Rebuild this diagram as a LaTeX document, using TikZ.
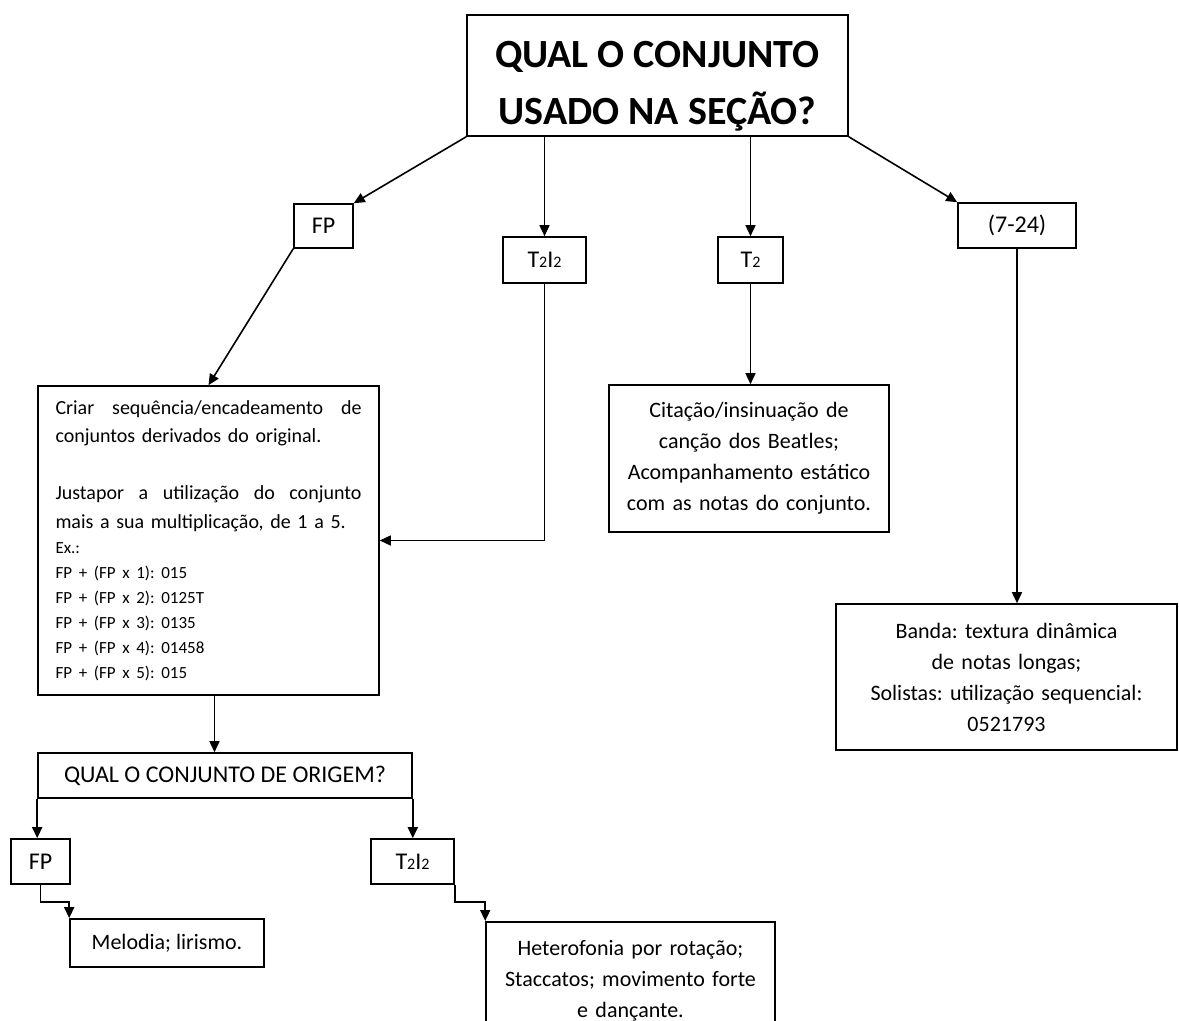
\documentclass[tikz,border=0pt]{standalone}
\usepackage{fontspec}
\setmainfont{Carlito}
\usetikzlibrary{positioning}
\usetikzlibrary{calc,arrows.meta}
\newcommand\sdig[1]{{\fontsize{8}{8}\selectfont #1}}

\begin{document}
\frenchspacing
\begin{tikzpicture}[x=0.5pt,y=-0.5pt,line width=0.8pt,
	box/.style={draw, align=center, inner sep=0pt},
	tag/.style={box, font=\fontsize{12}{14}\selectfont},
	note/.style={box, font=\fontsize{11}{15.5}\selectfont},
	link/.style={-{Triangle[length=5.5pt,width=5pt]}}]
		\useasboundingbox (0,0) rectangle (1179,1021);
		\clip (0,0) rectangle (1179,1021);
		% top level
		\node[box, minimum width=190.5pt, minimum height=60.5pt, font=\fontsize{20}{28.5}\selectfont\bfseries] (titulo) at (657.5,75.5) {\rule{0pt}{24pt}QUAL O CONJUNTO\\USADO NA SEÇÃO?};
		\node[tag, minimum width=29.5pt, minimum height=22pt] (fp) at (323.5,226) {FP};
		\node[tag, minimum width=41.5pt, minimum height=23pt] (tti) at (544.5,260) {T\sdig{2}I\sdig{2}};
		\node[tag, minimum width=32.5pt, minimum height=23pt] (tt) at (750.5,260) {T\sdig{2}};
		\node[tag, minimum width=59pt, minimum height=22.5pt] (sete) at (1017,225.5) {(7-24)};
		% descriptions
		\node[box, align=left, text width=153pt, inner xsep=8.75pt, minimum height=154.5pt, font=\fontsize{10}{14.25}\selectfont] (regras) at (208.5,540.5) {%
			Criar\hfill sequência/encadeamento\hfill de\par
			conjuntos derivados do original.\par
			\vspace{14.25pt}
			Justapor\hfill a\hfill utilização\hfill do\hfill conjunto\par
			mais a sua multiplicação, de 1 a 5.\par
			{\fontsize{8.5}{12.5}\selectfont Ex.:\par
			FP + (FP x 1): 015\par
			FP + (FP x 2): 0125T\par
			FP + (FP x 3): 0135\par
			FP + (FP x 4): 01458\par
			FP + (FP x 5): 015\par}};
		\node[note, text width=140pt, minimum height=73.5pt] (citacao) at (749,458.5) {Citação/insinuação de\\canção dos Beatles;\\Acompanhamento estático\\com as notas do conjunto.};
		\node[note, text width=170.5pt, minimum height=73pt] (banda) at (1006.5,677) {Banda: textura dinâmica\\de notas longas;\\Solistas: utilização sequencial:\\0521793};
		% second question
		\node[tag, minimum width=187pt, minimum height=22.5pt] (origem) at (225,775.5) {QUAL O CONJUNTO DE ORIGEM?};
		\node[tag, minimum width=29.5pt, minimum height=22.5pt] (fpb) at (40.5,861.5) {FP};
		\node[tag, minimum width=41.5pt, minimum height=22.5pt] (ttib) at (412.5,861.5) {T\sdig{2}I\sdig{2}};
		\node[note, minimum width=97pt, minimum height=24pt] (melodia) at (167,943) {Melodia; lirismo.};
		\node[note, text width=144.5pt, inner ysep=9.5pt, anchor=north] (hetero) at (630.5,921) {Heterofonia por rotação;\\Staccatos; movimento forte\\e dançante.};
		% arrows
		\draw[link] (titulo.south west) -- (fp.north east);
		\draw[link] (titulo.south -| tti.north) -- (tti.north);
		\draw[link] (titulo.south -| tt.north) -- (tt.north);
		\draw[link] (titulo.south east) -- (sete.north west);
		\draw[link] (fp.south west) -- (regras.north);
		\draw[link] (tti.south) |- (regras.east);
		\draw[link] (tt.south) -- (tt.south |- citacao.north);
		\draw[link] (sete.south) -- (sete.south |- banda.north);
		\draw[link] ([xshift=3pt]regras.south) -- ([xshift=3pt]regras.south |- origem.north);
		\draw[link] (origem.south west) -- (origem.south west |- fpb.north);
		\draw[link] (origem.south east) -- (origem.south east |- ttib.north);
		\draw[link] (fpb.south) -- ++(0pt,-8.5pt) -| (melodia.north west);
		\draw[link] (ttib.south east) -- ++(0pt,-8.5pt) -| (hetero.north west);
%		\draw[help lines] (0,0) grid[step=50] (1179,1021);
	\end{tikzpicture}
\end{document}
